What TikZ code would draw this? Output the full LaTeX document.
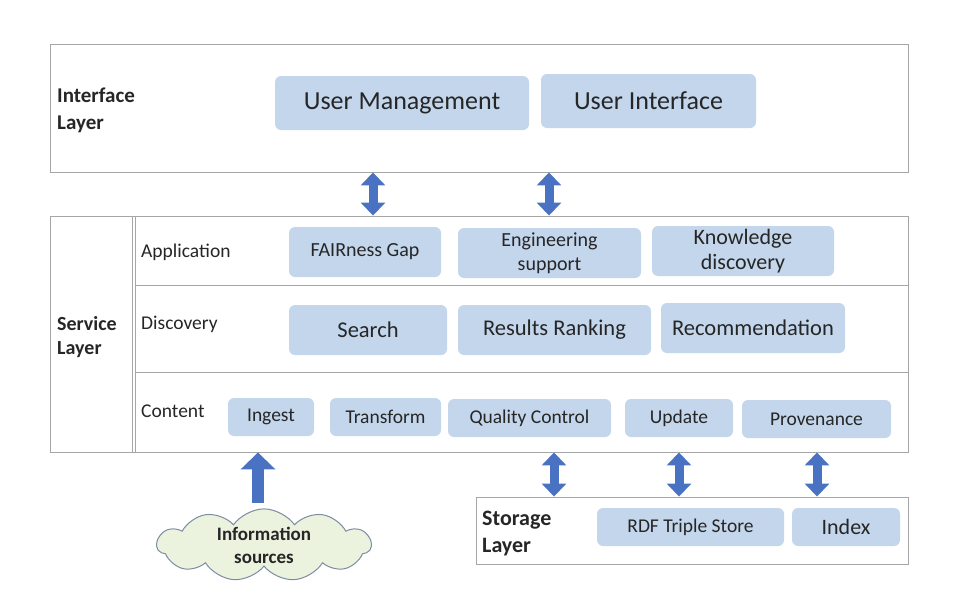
\documentclass[tikz,border=0pt]{standalone}
\usepackage{fontspec}
\setmainfont{Carlito}
\usetikzlibrary{arrows.meta,shapes.symbols,calc}
\definecolor{boxblue}{HTML}{C3D6EC}
\definecolor{arrowblue}{HTML}{4A72C2}
\definecolor{framegray}{HTML}{A6A6A6}
\definecolor{txt}{HTML}{262626}
\definecolor{cloudfill}{HTML}{EBF2DE}
\definecolor{cloudline}{HTML}{7D8CA3}
\tikzset{
  bx/.style={fill=boxblue, rounded corners=6pt, inner sep=0pt, text=txt, align=center},
  layerbox/.style={draw=framegray, line width=0.9pt, inner sep=0pt},
  lbl/.style={anchor=west, text=txt, inner sep=0pt, align=left},
  dblarrow/.style={draw=arrowblue, line width=9pt, {Triangle[width=24pt,length=13pt]}-{Triangle[width=24pt,length=13pt]}},
  uparrow/.style={draw=arrowblue, line width=12pt, -{Triangle[width=34pt,length=17pt]}},
}
\begin{document}
\begin{tikzpicture}[x=1pt,y=-1pt]
\useasboundingbox (0,0) rectangle (953,597);
% layer frames
\node[layerbox, minimum width=858pt, minimum height=128pt] (iface) at (479,108) {};
\node[layerbox, minimum width=858pt, minimum height=236pt] (serv) at (479,334) {};
\node[layerbox, minimum width=432pt, minimum height=67pt] (stor) at (692,530.5) {};
% service inner structure
\draw[framegray, line width=0.9pt] (132,216) -- (132,452);
\draw[framegray, line width=0.9pt] (135,216) -- (135,452);
\draw[framegray, line width=0.9pt] (135,285) -- (908,285);
\draw[framegray, line width=0.9pt] (135,372) -- (908,372);
% layer labels
\node[lbl, font=\fontsize{21}{27}\selectfont\bfseries] (ilbl) at (57,110) {Interface\\Layer};
\node[lbl, font=\fontsize{20}{24}\selectfont\bfseries] (slbl) at (57,337) {Service\\Layer};
\node[lbl, font=\fontsize{22}{27}\selectfont\bfseries] (stlbl) at (482,534) {Storage\\Layer};
\node[lbl, font=\fontsize{19.5}{23}\selectfont] (app) at (141,252) {Application};
\node[lbl, font=\fontsize{19.5}{23}\selectfont] (disc) at (141,324) {Discovery};
\node[lbl, font=\fontsize{19.5}{23}\selectfont] (cont) at (141,411) {Content};
% interface boxes
\node[bx, minimum width=254pt, minimum height=54pt, font=\fontsize{26}{30}\selectfont] (um) at (402,103) {User Management};
\node[bx, minimum width=215pt, minimum height=54pt, font=\fontsize{26}{30}\selectfont] (ui) at (648.5,101) {User Interface};
% application
\node[bx, minimum width=152pt, minimum height=50pt, font=\fontsize{20}{24}\selectfont] (fair) at (365,252) {FAIRness Gap};
\node[bx, minimum width=183pt, minimum height=50pt, font=\fontsize{20}{24}\selectfont] (eng) at (549.5,253) {Engineering\\support};
\node[bx, minimum width=182pt, minimum height=50pt, font=\fontsize{22}{25}\selectfont] (know) at (743,251) {Knowledge\\discovery};
% discovery
\node[bx, minimum width=158pt, minimum height=50pt, font=\fontsize{22.5}{26}\selectfont] (search) at (368,330) {Search};
\node[bx, minimum width=193pt, minimum height=50pt, font=\fontsize{22.5}{26}\selectfont] (rank) at (554.5,330) {Results Ranking};
\node[bx, minimum width=184pt, minimum height=50pt, font=\fontsize{22.5}{26}\selectfont] (rec) at (753,328) {Recommendation};
% content
\node[bx, minimum width=86pt, minimum height=38pt, font=\fontsize{19.5}{23}\selectfont] (ingest) at (271,417) {Ingest};
\node[bx, minimum width=111pt, minimum height=38pt, font=\fontsize{19.5}{23}\selectfont] (trans) at (385.5,417) {Transform};
\node[bx, minimum width=163pt, minimum height=38pt, font=\fontsize{19.5}{23}\selectfont] (qc) at (529.5,418) {Quality Control};
\node[bx, minimum width=108pt, minimum height=38pt, font=\fontsize{19.5}{23}\selectfont] (upd) at (679,418) {Update};
\node[bx, minimum width=149pt, minimum height=38pt, font=\fontsize{19.5}{23}\selectfont] (prov) at (816.5,419) {Provenance};
% storage
\node[bx, minimum width=187pt, minimum height=38pt, font=\fontsize{19.5}{23}\selectfont] (rdf) at (690.5,527) {RDF Triple Store};
\node[bx, minimum width=108pt, minimum height=38pt, font=\fontsize{22}{25}\selectfont] (idx) at (846,527) {Index};
% cloud
\node[cloud, cloud puffs=11, cloud puff arc=110, aspect=3, draw=cloudline, line width=1pt, fill=cloudfill,
      minimum width=214pt, minimum height=72pt, inner sep=0pt, align=center, text=txt,
      font=\fontsize{19}{23}\selectfont\bfseries] (info) at (264,545) {Information\\sources};
% arrows
\draw[dblarrow] (373,0 |- iface.south) -- (373,0 |- serv.north);
\draw[dblarrow] (549,0 |- iface.south) -- (549,0 |- serv.north);
\draw[dblarrow] (554,0 |- serv.south) -- (554,0 |- stor.north);
\draw[dblarrow] (upd.south |- serv.south) -- (upd.south |- stor.north);
\draw[dblarrow] (817,0 |- serv.south) -- (817,0 |- stor.north);
\draw[uparrow] (258,503) coordinate (upbase) -- (258,0 |- serv.south);
\end{tikzpicture}
\end{document}
